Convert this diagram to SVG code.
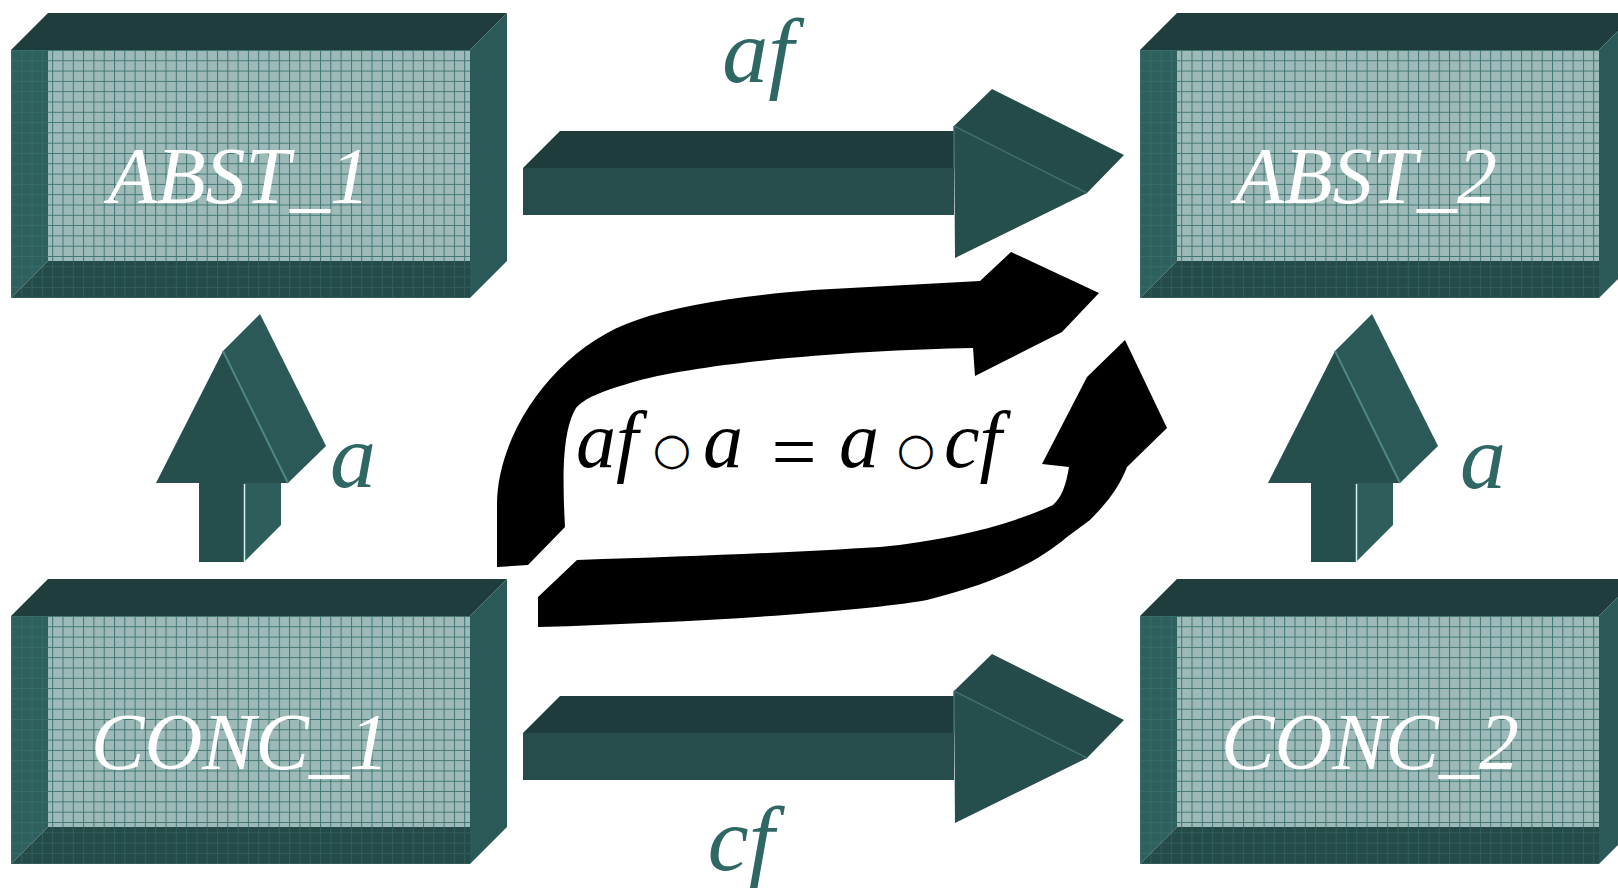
<svg xmlns="http://www.w3.org/2000/svg" width="1618" height="888" viewBox="0 0 1618 888">
<defs>
<pattern id="grid" patternUnits="userSpaceOnUse" width="10.3" height="10.3">
<rect width="10.3" height="10.3" fill="#9dbab8"/>
<path d="M0 0.5H10.3M0.5 0V10.3" stroke="#3f7773" stroke-width="1" fill="none"/>
</pattern>
<pattern id="gridlines" patternUnits="userSpaceOnUse" width="10.3" height="10.3">
<path d="M0 0.5H10.3M0.5 0V10.3" stroke="#4a8a85" stroke-width="1" fill="none"/>
</pattern>
<g id="box">
<polygon points="0,0 37,-37 496,-37 459,0" fill="#1f3d3d"/>
<polygon points="459,0 496,-37 496,211 459,248" fill="#2b5957"/>
<rect x="37" y="0" width="422" height="211" fill="url(#grid)"/>
<polygon points="0,0 37,0 37,211 0,248" fill="#2e605e"/>
<polygon points="0,248 37,211 459,211 459,248" fill="#254b49"/>
<polygon points="0,0 37,0 37,211 0,248" fill="url(#gridlines)" opacity="0.3"/>
<polygon points="0,248 37,211 459,211 459,248" fill="url(#gridlines)" opacity="0.3"/>
</g>
<g id="harrow">
<polygon points="523,168 560,131 954,131 954,168" fill="#1f3c3c"/>
<rect x="523" y="168" width="431" height="47" fill="#264d4c"/>
<polygon points="954,126 992,89 1124,155 1087,193" fill="#244b4a"/>
<polygon points="954,126 1087,193 955,258" fill="#264e4d"/>
<path d="M954 126L1087 193M954 126V168" stroke="#3f6e6b" stroke-width="1.5" fill="none"/>
</g>
<g id="varrow">
<polygon points="244,483 281,446 281,525 244,562" fill="#2e5e5c"/>
<rect x="199" y="483" width="45" height="79" fill="#264e4c"/>
<polygon points="223,351 260,314 326,446 288,483" fill="#2b5957"/>
<polygon points="223,351 288,483 156,483" fill="#264e4c"/>
<path d="M223 351L288 483" stroke="#4f8783" stroke-width="2" fill="none"/>
<path d="M244.5 484V562" stroke="#d8f0ee" stroke-width="1.5" fill="none"/>
</g>
</defs>
<style>
.title{font-style:italic;font-size:80px;fill:#ffffff;text-anchor:middle}
.lab{font-style:italic;font-size:92px;fill:#2f6764;text-anchor:middle}
.eq{font-style:italic;font-size:80px;fill:#000000}
.op{font-style:normal;fill:#000000;text-anchor:middle}
</style>
<rect width="1618" height="888" fill="#ffffff"/>
<g id="connectors">
<g id="af"><use href="#harrow"/><text class="lab" font-family="'Liberation Serif','Times New Roman','DejaVu Serif',serif" x="758" y="82">af</text></g>
<g id="cf"><use href="#harrow" transform="translate(0,565)"/><text class="lab" font-family="'Liberation Serif','Times New Roman','DejaVu Serif',serif" x="741" y="870">cf</text></g>
<g id="a-left"><use href="#varrow"/><text class="lab" font-family="'Liberation Serif','Times New Roman','DejaVu Serif',serif" x="353" y="487">a</text></g>
<g id="a-right"><use href="#varrow" transform="translate(1112,0)"/><text class="lab" font-family="'Liberation Serif','Times New Roman','DejaVu Serif',serif" x="1483" y="488">a</text></g>
<g id="commute">
<path d="M497,567 L497,505 C497,430 560,345 637,320 C680,305 740,296 813,290 L980,281 L1011,252 L1099,293 L1062,332 L975,376 L973,348 C860,350 700,362 630,383 C600,392 585,398 576,408 C563,430 562,470 565,527 L528,565 Z" fill="#000"/>
<path d="M538,627 L538,597 L577,560 C700,556 800,552 880,547 C950,540 1010,525 1053,505 C1062,497 1066,485 1069,467 L1042,464 L1087,377 L1125,340 L1167,428 L1127,467 C1120,485 1110,500 1090,520 L1067,537 C1040,560 1000,582 927,600 C860,612 700,622 538,627 Z" fill="#000"/>
</g>
</g>
<g id="abst1"><use href="#box" transform="translate(11,50)"/><text class="title" font-family="'Liberation Serif','Times New Roman','DejaVu Serif',serif" x="239" y="203">ABST_1</text></g>
<g id="abst2"><use href="#box" transform="translate(1140,50)"/><text class="title" font-family="'Liberation Serif','Times New Roman','DejaVu Serif',serif" x="1366" y="203">ABST_2</text></g>
<g id="conc1"><use href="#box" transform="translate(11,616)"/><text class="title" font-family="'Liberation Serif','Times New Roman','DejaVu Serif',serif" x="240" y="769">CONC_1</text></g>
<g id="conc2"><use href="#box" transform="translate(1140,616)"/><text class="title" font-family="'Liberation Serif','Times New Roman','DejaVu Serif',serif" x="1370" y="769">CONC_2</text></g>
<g id="formula">
<text class="eq" font-family="'Liberation Serif','Times New Roman','DejaVu Serif',serif" x="576" y="467">af</text>
<text class="op" font-family="'DejaVu Sans',sans-serif" font-size="44" x="672" y="464">○</text>
<text class="eq" font-family="'Liberation Serif','Times New Roman','DejaVu Serif',serif" x="703" y="467">a</text>
<text class="op" font-family="'Liberation Serif','Times New Roman',serif" font-size="80" x="794" y="479">=</text>
<text class="eq" font-family="'Liberation Serif','Times New Roman','DejaVu Serif',serif" x="839" y="467">a</text>
<text class="op" font-family="'DejaVu Sans',sans-serif" font-size="44" x="916" y="464">○</text>
<text class="eq" font-family="'Liberation Serif','Times New Roman','DejaVu Serif',serif" x="944" y="467">cf</text>
</g>
</svg>
